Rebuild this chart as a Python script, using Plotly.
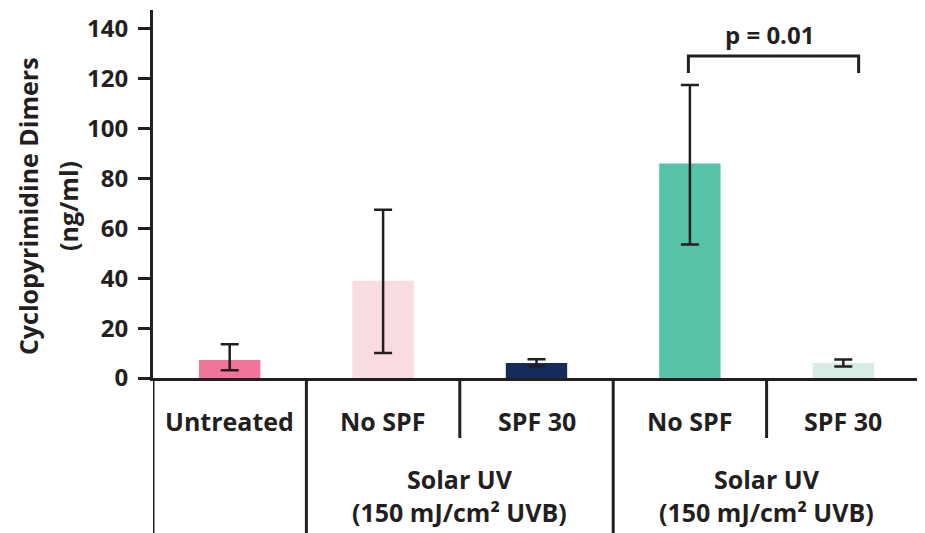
import plotly.graph_objects as go

categories = ["Untreated", "No SPF", "SPF 30", "No SPF", "SPF 30"]
values = [7.2, 39, 6, 86, 6]
err_plus = [6.3, 28.5, 1.5, 31.5, 1.4]
err_minus = [4.1, 29, 1.3, 32.5, 1.4]
colors = ["#F07598", "#F9DCE1", "#172A5C", "#56C3A8", "#D5EDE6"]
group_label = "Solar UV<br>(150 mJ/cm² UVB)"
p_text = "p = 0.01"
y_title_lines = ["Cyclopyrimidine Dimers", "(ng/ml)"]
y_ticks = [0, 20, 40, 60, 80, 100, 120, 140]

ink = "#231F20"
FONT = "Open Sans"
xs = list(range(len(categories)))

fig = go.Figure()
fig.add_trace(go.Bar(
    x=xs, y=values, width=0.4,
    marker=dict(color=colors, line=dict(width=0)),
    error_y=dict(type="data", symmetric=False, array=err_plus, arrayminus=err_minus,
                 color=ink, thickness=2.5, width=9),
    showlegend=False,
))

# significance bracket between bars 4 and 5
fig.add_shape(type="path", xref="x", yref="y",
              path="M 2.99 122.3 L 2.99 129.2 L 4.1 129.2 L 4.1 122.3",
              line=dict(color=ink, width=3))
fig.add_annotation(x=3.52, y=129.2, xref="x", yref="y", text=p_text, showarrow=False,
                   yanchor="bottom", yshift=3, font=dict(family=FONT, size=24, color=ink, weight="bold"))

# table lines below axis
full = [-0.5, 0.5, 2.5, 4.5]
half = [1.5, 3.5]
for xv in full:
    fig.add_shape(type="line", xref="x", yref="paper", x0=xv, x1=xv, y0=0, y1=-0.43,
                  line=dict(color=ink, width=3))
for xv in half:
    fig.add_shape(type="line", xref="x", yref="paper", x0=xv, x1=xv, y0=0, y1=-0.163,
                  line=dict(color=ink, width=3))

for xv, lab in zip(xs, categories):
    fig.add_annotation(x=xv, y=-0.117, xref="x", yref="paper", text=lab, showarrow=False,
                       yanchor="middle", font=dict(family=FONT, size=25, color=ink, weight="bold"))
for xc in [1.5, 3.5]:
    fig.add_annotation(x=xc, y=-0.318, xref="x", yref="paper", text=group_label, showarrow=False,
                       yanchor="middle", font=dict(family=FONT, size=25, color=ink, weight="bold"))

# y-axis title (two rotated lines)
for xp, line in zip([-0.163, -0.111], y_title_lines):
    fig.add_annotation(x=xp, y=0.467, xref="paper", yref="paper",
                       text=line, showarrow=False, textangle=-90,
                       xanchor="center", yanchor="middle",
                       font=dict(family=FONT, size=25, color=ink, weight="bold"))

# page body has an 8px margin: figure is drawn 8px right/down in the window
fig.update_layout(
    width=917, height=525,
    margin=dict(l=145, r=5, t=2, b=155),
    plot_bgcolor="white", paper_bgcolor="white",
    font=dict(family=FONT, color=ink),
    xaxis=dict(range=[-0.5, 4.5], showline=True, linecolor=ink, linewidth=3,
               showticklabels=False, ticks="", showgrid=False, zeroline=False, fixedrange=True),
    yaxis=dict(range=[0, 147.6], tickvals=y_ticks, showline=True, linecolor=ink, linewidth=3,
               ticks="outside", ticklen=12, tickwidth=3, tickcolor=ink, ticklabelstandoff=5,
               tickfont=dict(family=FONT, size=24, color=ink, weight="bold"),
               showgrid=False, zeroline=False, automargin=False),
)

fig.write_html("out.html")
